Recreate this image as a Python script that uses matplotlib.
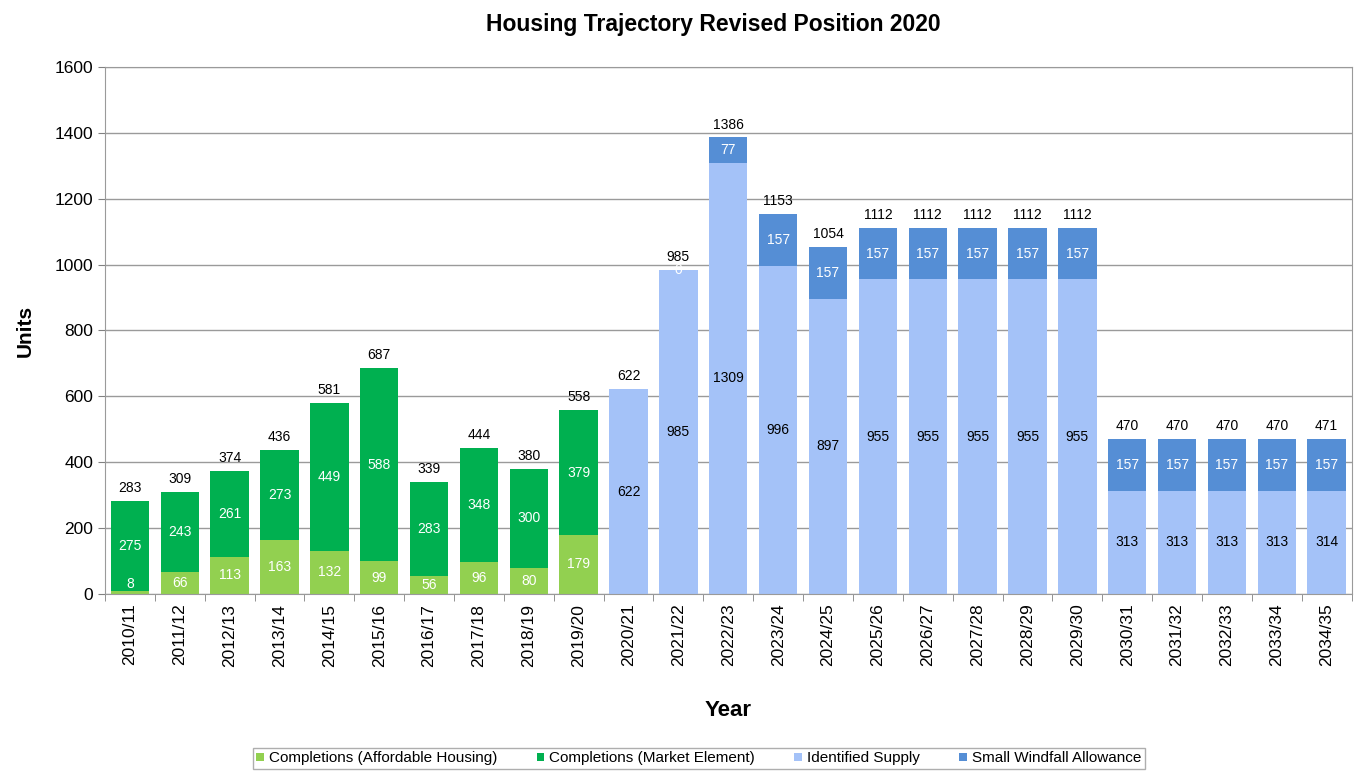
import numpy as np
import matplotlib.pyplot as plt

years = ['2010/11', '2011/12', '2012/13', '2013/14', '2014/15', '2015/16', '2016/17',
         '2017/18', '2018/19', '2019/20', '2020/21', '2021/22', '2022/23', '2023/24',
         '2024/25', '2025/26', '2026/27', '2027/28', '2028/29', '2029/30', '2030/31',
         '2031/32', '2032/33', '2033/34', '2034/35']

# completions (first 10 years)
affordable = [8, 66, 113, 163, 132, 99, 56, 96, 80, 179]
market = [275, 243, 261, 273, 449, 588, 283, 348, 300, 379]

# projections (remaining 15 years)
identified = [622, 985, 1309, 996, 897, 955, 955, 955, 955, 955, 313, 313, 313, 313, 314]
windfall = [None, 0, 77, 157, 157, 157, 157, 157, 157, 157, 157, 157, 157, 157, 157]

c_aff = '#92D050'
c_mkt = '#00B050'
c_ids = '#A4C2F8'
c_wnd = '#558ED5'

plt.rcParams['font.family'] = ['Liberation Sans', 'DejaVu Sans']

fig = plt.figure(figsize=(13.58, 7.72), dpi=100)
ax = fig.add_axes([0.0773, 0.2306, 0.918, 0.6826])

n_c = len(affordable)
x_c = np.arange(n_c)
x_p = np.arange(n_c, len(years))
w = 0.77

aff = np.array(affordable)
mkt = np.array(market)
ids = np.array(identified)
wnd = np.array([0 if v is None else v for v in windfall])

ax.bar(x_c, aff, w, color=c_aff, label='Completions (Affordable Housing)', zorder=2)
ax.bar(x_c, mkt, w, bottom=aff, color=c_mkt, label='Completions (Market Element)', zorder=2)
ax.bar(x_p, ids, w, color=c_ids, label='Identified Supply', zorder=2)
ax.bar(x_p, wnd, w, bottom=ids, color=c_wnd, label='Small Windfall Allowance', zorder=2)

fs = 10
for i in range(n_c):
    ax.text(x_c[i], aff[i] / 2 if aff[i] > 30 else 30, str(aff[i]), ha='center', va='center',
            color='white', fontsize=fs, zorder=3)
    ax.text(x_c[i], aff[i] + mkt[i] / 2, str(mkt[i]), ha='center', va='center',
            color='white', fontsize=fs, zorder=3)
    ax.text(x_c[i], aff[i] + mkt[i] + 18, str(aff[i] + mkt[i]), ha='center', va='bottom',
            color='black', fontsize=fs, zorder=3)

for j in range(len(x_p)):
    ax.text(x_p[j], ids[j] / 2, str(ids[j]), ha='center', va='center',
            color='black', fontsize=fs, zorder=3)
    if windfall[j] is not None:
        ax.text(x_p[j], ids[j] + max(wnd[j] / 2, 0), str(wnd[j]), ha='center', va='center',
                color='white', fontsize=fs, zorder=3)
    ax.text(x_p[j], ids[j] + wnd[j] + 18, str(ids[j] + wnd[j]), ha='center', va='bottom',
            color='black', fontsize=fs, zorder=3)

ax.set_xlim(-0.5, len(years) - 0.5)
ax.set_ylim(0, 1600)
ax.set_yticks(np.arange(0, 1601, 200))
ax.set_xticks(np.arange(len(years)))
ax.set_xticklabels(years, rotation=90, fontsize=12.5)
ax.set_xticks(np.arange(-0.5, len(years), 1), minor=True)
ax.tick_params(axis='x', which='major', length=0, pad=7)
ax.tick_params(axis='x', which='minor', length=5, color='#808080')
ax.tick_params(axis='y', labelsize=12.5, length=5, color='#808080')
ax.yaxis.grid(True, color='#9a9a9a', linewidth=1, zorder=0)
ax.set_axisbelow(True)
for s in ax.spines.values():
    s.set_color('#9a9a9a')

ax.set_ylabel('Units', fontsize=15, fontweight='bold', labelpad=14)
ax.set_xlabel('Year', fontsize=16, fontweight='bold', labelpad=24)
ax.set_title('Housing Trajectory Revised Position 2020', fontsize=16.5, fontweight='bold',
             x=0.488, pad=26)

fig.legend(loc='center', bbox_to_anchor=(0.5145, 0.0175), ncol=4, fontsize=11,
           frameon=True, fancybox=False, edgecolor='#9a9a9a', handlelength=0.5,
           handleheight=0.5, handletextpad=0.3, columnspacing=2.6, borderpad=0.25)

fig.savefig('out.png', dpi=100)
